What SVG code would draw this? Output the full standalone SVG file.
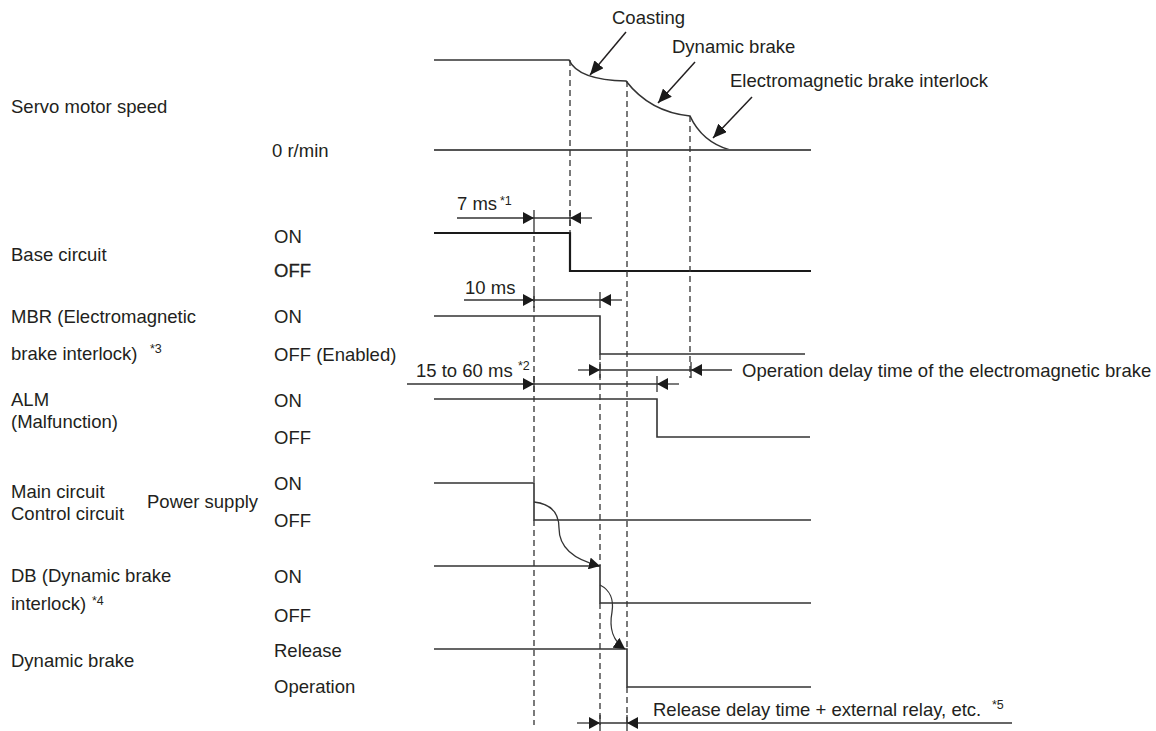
<svg xmlns="http://www.w3.org/2000/svg" width="1156" height="731" viewBox="0 0 1156 731">
<style>
text{font-family:"Liberation Sans",Arial,sans-serif;font-size:18.5px;fill:#231f20}
.sup{font-size:12.5px}
.sig{fill:none;stroke:#333;stroke-width:1.6}
.sigb{fill:none;stroke:#1a1a1a;stroke-width:2.2}
.zero{fill:none;stroke:#555;stroke-width:2}
.dash{fill:none;stroke:#333;stroke-width:1.3;stroke-dasharray:6,4}
.dim{fill:none;stroke:#333;stroke-width:1.3}
.da{fill:none;stroke:#333;stroke-width:1.3;marker-end:url(#ah)}
.ca{fill:none;stroke:#231f20;stroke-width:1.5;marker-end:url(#ahl)}
</style>
<defs>
<marker id="ah" markerUnits="userSpaceOnUse" markerWidth="12" markerHeight="12" refX="11" refY="6" orient="auto"><path d="M0,0 L11,6 L0,12 Z" fill="#1a1a1a"/></marker>
<marker id="ahl" markerUnits="userSpaceOnUse" markerWidth="15" markerHeight="12" refX="14" refY="6" orient="auto"><path d="M0,0 L14,6 L0,12 Z" fill="#1a1a1a"/></marker>
</defs>
<rect width="1156" height="731" fill="#fff"/>

<g id="servo-speed">
<text x="11" y="113">Servo motor speed</text>
<text x="272" y="157">0 r/min</text>
<path class="sig" d="M434,60 H569 Q578,80 626,81 Q650,112 690,116 Q702,142 730,150"/>
<path class="zero" d="M434,150 H811"/>
<text x="612" y="24">Coasting</text>
<text x="672" y="53">Dynamic brake</text>
<text x="730" y="87">Electromagnetic brake interlock</text>
</g>

<g id="base-circuit">
<text x="11" y="261">Base circuit</text>
<text x="274" y="243">ON</text>
<text x="274" y="277" style="stroke:#231f20;stroke-width:0.3">OFF</text>
<path class="sigb" d="M434,233 H570 V271 H811"/>
</g>

<g id="mbr">
<text x="11" y="323">MBR (Electromagnetic</text>
<text x="11" y="360">brake interlock)<tspan class="sup" x="150" dy="-7">*3</tspan></text>
<text x="274" y="323">ON</text>
<text x="274" y="361">OFF (Enabled)</text>
<path class="sig" d="M434,316 H600 V354 H805"/>
</g>

<g id="alm">
<text x="11" y="406">ALM</text>
<text x="11" y="428">(Malfunction)</text>
<text x="274" y="407">ON</text>
<text x="274" y="444">OFF</text>
<path class="sig" d="M434,399 H657 V437 H810"/>
</g>

<g id="power-supply">
<text x="11" y="498">Main circuit</text>
<text x="11" y="520">Control circuit</text>
<text x="147" y="508">Power supply</text>
<text x="274" y="490">ON</text>
<text x="274" y="527">OFF</text>
<path class="sig" d="M434,483 H534 V520 H811"/>
</g>

<g id="db-interlock">
<text x="11" y="582">DB (Dynamic brake</text>
<text x="11" y="610">interlock)<tspan class="sup" x="92" dy="-5">*4</tspan></text>
<text x="274" y="583">ON</text>
<text x="274" y="622">OFF</text>
<path class="sig" d="M434,566 H600 V603 H811"/>
</g>

<g id="dynamic-brake">
<text x="11" y="667">Dynamic brake</text>
<text x="274" y="657">Release</text>
<text x="274" y="693">Operation</text>
<path class="sig" d="M434,649 H627 V687 H811"/>
</g>

<g id="connectors">
<path class="dash" d="M570,60 V233"/>
<path class="dash" d="M534,226 V483 M534,520 V725"/>
<path class="dash" d="M627,81 V649 M627,687 V725"/>
<path class="dash" d="M690,116 V378"/>
<path class="dash" d="M600,354 V566 M600,603 V725"/>

<path class="ca" d="M626,32 L590,75"/>
<path class="ca" d="M695,62 L658,103"/>
<path class="ca" d="M752,97 L713,138"/>

<text x="457" y="210">7 ms<tspan class="sup" x="500" dy="-5">*1</tspan></text>
<path class="da" d="M457,218 H534"/>
<path class="dim" d="M534,218 H570 M534,210 V226 M570,210 V226"/>
<path class="da" d="M592,218 H570"/>

<text x="465" y="294">10 ms</text>
<path class="da" d="M464,300 H534"/>
<path class="dim" d="M534,300 H600 M534,292 V308 M600,292 V308"/>
<path class="da" d="M622,300 H600"/>

<path class="da" d="M578,370 H600"/>
<path class="dim" d="M600,370 H691 M600,362 V378 M691,362 V378"/>
<path class="da" d="M732,370 H691"/>
<text x="742" y="377">Operation delay time of the electromagnetic brake</text>

<text x="416" y="377">15 to 60 ms<tspan class="sup" x="518" dy="-7">*2</tspan></text>
<path class="da" d="M407,384 H534"/>
<path class="dim" d="M534,384 H657 M534,376 V392 M657,376 V392"/>
<path class="da" d="M679,384 H657"/>

<path class="da" d="M534,502 C552,504 559,514 559,528 C559,548 575,560 600,566"/>
<path class="da" d="M600,585 C610,590 614,600 612,612 C609,628 612,640 625,649"/>

<path class="da" d="M577,723 H600"/>
<path class="dim" d="M600,723 H627 M600,715 V731 M627,715 V731"/>
<path class="da" d="M1012,723 H627"/>
<text x="653" y="716">Release delay time + external relay, etc.<tspan class="sup" x="992" dy="-7">*5</tspan></text>
</g>
</svg>
